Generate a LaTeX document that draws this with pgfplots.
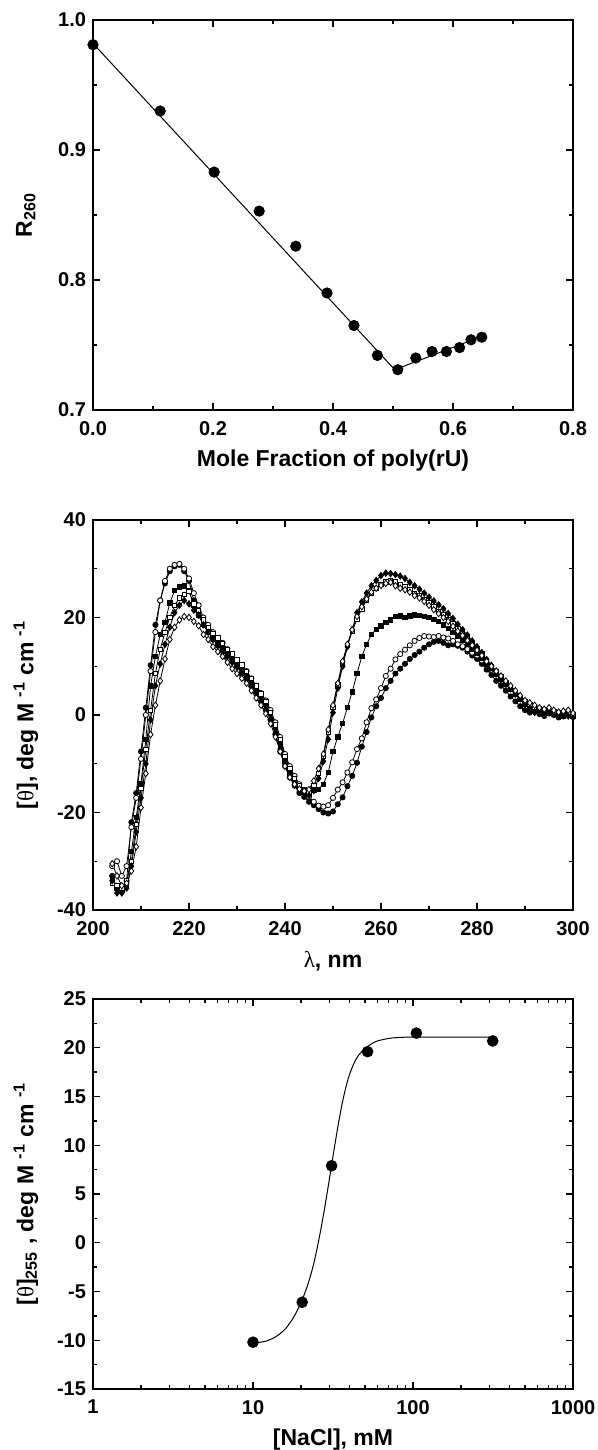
\documentclass[border=0pt]{standalone}
\usepackage{pgfplots}
\pgfplotsset{compat=1.18}
\usepackage{pgfplotstable}
\usepackage{fontspec}
\setmainfont{Liberation Sans}
\newfontfamily\symfont{Liberation Serif}

% CD spectra: l = wavelength (nm); A..F = six salt conditions
\pgfplotstableread{
l A B C D E F
204 -33 -31 -33.5 -34.5 -34 -30.5
205 -35.5 -30 -35.5 -35 -36.5 -33
206 -36 -33 -36 -35.5 -36.5 -35
207 -34 -31 -35 -34 -35.5 -34.5
208 -22 -23 -28 -30 -31 -32
209 -16 -17 -21 -22.5 -24 -27
210 -7.5 -9 -14 -15 -17 -19
211 1.5 0 -5 -7 -10 -12
212 10.2 9 6 1 -1 -4
213 18.5 17 12 8.5 6 2
214 23.5 23.5 16.5 13.5 10.5 7
215 27 27.5 19 17 14.5 11.5
216 29.5 30 23 20 18 15.5
217 30.5 30.8 25.5 22.5 21 18
218 30.8 31 26.3 24 22.5 19.5
219 29.5 30 26.5 24.8 23.5 20.2
220 27.5 28 25.5 25.3 22.8 20
221 23.5 25 22.5 22.8 21.5 19.2
222 20.5 22.5 20.5 21.5 20.5 18.3
223 18.5 20 18.8 19.5 18.5 16.5
224 17 18.5 17.5 18 17 15.5
225 15.5 17 16.3 16.8 15.5 14
226 14.2 15.8 15 15.8 14.5 13
227 13.5 14.8 14 14.7 13 12
228 12 13.5 13 13.5 12 10.8
229 11 12.2 12 12.5 10.8 9.5
230 10 11.2 10.8 11.3 9.8 8.5
231 8.5 10 9.8 10.3 8.8 7.5
232 7.5 9 8.5 9 7.6 6.5
233 6 7.5 7 7.5 6 5
234 4.5 6 5.5 6 4.5 3.5
235 2.8 4.5 4 4.3 3 2
236 1 3 2.5 2.8 1.2 0.3
237 -1 1 0.3 0.5 -1 -1.8
238 -4 -1.5 -2.5 -2 -3.8 -4.5
239 -7.5 -4.5 -6 -5 -7 -7.5
240 -10.5 -8 -9.5 -8.5 -10 -10.5
241 -12.8 -10.5 -12 -11 -12.5 -12.8
242 -14.5 -12.5 -13.5 -13 -14.3 -14.2
243 -16 -14.2 -14.5 -14.5 -15.6 -15.2
244 -16.8 -15.5 -15.3 -15.5 -16.3 -15.6
245 -17.8 -16.8 -15.5 -15.8 -16.5 -15.3
246 -18.5 -17.8 -15.5 -14.5 -15.5 -13.5
247 -19.3 -18.6 -15.2 -12 -13 -11
248 -20 -18.8 -14.2 -8.5 -9.5 -8
249 -20.2 -18.5 -11.8 -3.5 -5 -3
250 -19.8 -17 -7.5 1.5 0.5 2
251 -18.3 -15.3 -4.5 6.2 5.5 6.5
252 -16.9 -13.8 -1.7 10.8 10 11
253 -14.6 -11.8 1.5 14.3 14 14.5
254 -12.5 -9.7 4.7 17.2 17.5 17.5
255 -9.8 -7 8.5 19.6 21 20.2
256 -6.5 -4.8 12 21.8 23.2 22.2
257 -3.5 -1.5 14.5 23.5 25 23.8
258 -0.5 1.4 16.5 25 26.5 25.2
259 1.8 3.2 17.6 26 27.6 26
260 3.5 5.5 18.3 26.8 28.6 26.6
261 5.5 8 19 27.3 29.1 27
262 7 9.5 19.5 27.6 29 27.2
263 8.5 11.4 20.2 27.3 28.8 26.5
264 9.5 12.5 20.3 26.8 28.5 26
265 10.5 13.4 20 26.3 28 25.7
266 11.5 14.3 20.3 25.8 27.2 25.2
267 12.3 15.2 20.5 25 26.5 24.5
268 13 15.8 20.4 24.4 25.8 24
269 13.8 16.2 20.2 23.7 25 23.3
270 14.5 16.1 20 23 24.2 22.5
271 15 16 19.6 22.2 23.4 21.6
272 15.2 16.2 19.2 21.3 22.6 20.8
273 14.8 15.9 18.5 20.5 21.8 20
274 14.3 15.7 17.8 19.6 20.8 19.2
275 14.5 15.2 17 18.7 19.8 18.2
276 14.2 14.5 16.2 17.8 18.6 17.2
277 13.8 14.1 15.3 16.8 17.5 16.3
278 13 13.5 14.5 15.8 16.4 15.3
279 12.2 12.8 13.6 14.7 15.2 14.3
280 11.5 12.2 12.6 13.6 14 13.3
281 10.5 11.2 11.6 12.5 12.8 12.2
282 9.3 10.2 10.5 11.2 11.4 11
283 8.2 9.3 9.5 10 10.2 10
284 7 8.3 8.4 9 9 9
285 6 7.2 7.3 7.8 7.8 8
286 5 6.2 6.3 6.7 6.5 7
287 3.8 5.3 5.2 5.6 5.4 6
288 2.8 4.3 4.2 4.6 4.3 5
289 1.8 3.4 3.3 3.6 3.3 4
290 1 2.6 2.2 2.8 2.3 3
291 0.5 2 1.5 2.2 1.2 2.5
292 0.8 1.7 1.3 1.6 0.5 2
293 0.2 1.3 1.2 1.3 1 1.5
294 -0.2 1.1 0.6 1 0.3 1.2
295 0.3 0.8 0.4 0.8 0.8 1.5
296 0 0.6 0.5 0.6 0.2 1
297 -0.5 0.5 0.1 0.4 -0.3 0.6
298 -0.3 0.2 -0.3 0.2 0 0.8
299 0 0.8 0.2 0.5 -0.2 1
300 -0.4 0.3 -0.3 0.1 -0.5 0.4
}\cdspectra

\pgfplotsset{
  panel/.style={
    scale only axis, width=240pt, height=195pt,
    axis line style={line width=0.8pt},
    tick align=inside, tick pos=both,
    major tick length=3.5pt, minor tick length=1.8pt,
    every tick/.append style={black, line width=0.7pt},
    tick label style={font=\bfseries\fontsize{10}{12}\selectfont},
    xticklabel style={yshift=-2pt},
    /pgf/number format/assume math mode=true,
    label style={font=\bfseries\fontsize{11.5}{13}\selectfont},
    xlabel style={at={(axis description cs:0.5,-0.13)}, anchor=center},
    ylabel style={at={(axis description cs:-0.14,0.5)}, anchor=center},
  },
  cd/.style={black, line width=0.4pt, mark size=1.3pt},
}

\begin{document}
\begin{tikzpicture}
\path[use as bounding box] (0,0) rectangle (299pt,-725pt);

% (top) R260 against mole fraction
\begin{axis}[panel, at={(46.5pt,-10pt)}, anchor=north west,
    xmin=0, xmax=0.8, ymin=0.7, ymax=1.0,
    xtick={0,0.2,0.4,0.6,0.8}, minor xtick={0.1,0.3,0.5,0.7},
    ytick={0.7,0.8,0.9,1.0}, minor ytick={0.75,0.85,0.95},
    xticklabel style={/pgf/number format/.cd, fixed, fixed zerofill, precision=1},
    yticklabel style={/pgf/number format/.cd, fixed, fixed zerofill, precision=1},
    xlabel={Mole Fraction of poly(rU)},
    ylabel={R\textsubscript{260}}]
  \addplot[black, line width=0.5pt, mark=none]
    coordinates {(0,0.982) (0.503,0.731) (0.650,0.757)};
  \addplot[only marks, mark=*, mark size=2.6pt, black]
    coordinates {(0.0,0.981) (0.112,0.930) (0.202,0.883) (0.277,0.853)
                 (0.338,0.826) (0.390,0.790) (0.435,0.765) (0.474,0.742)
                 (0.508,0.731) (0.538,0.740) (0.565,0.745) (0.589,0.745)
                 (0.611,0.748) (0.630,0.754) (0.648,0.756)};
\end{axis}

% (middle) CD spectra
\begin{axis}[panel, at={(46.5pt,-260pt)}, anchor=north west,
    xmin=200, xmax=300, ymin=-40, ymax=40,
    xtick={200,220,240,260,280,300}, minor xtick={210,230,250,270,290},
    ytick={-40,-20,0,20,40}, minor ytick={-30,-10,10,30},
    xlabel={{\symfont\mdseries λ}, nm},
    ylabel={[{\symfont\mdseries θ}], deg M \textsuperscript{-1} cm \textsuperscript{-1}}]
  \addplot[cd, mark=*, mark options={fill=black}] table[x=l, y=A] {\cdspectra};
  \addplot[cd, mark=*, mark options={fill=white}] table[x=l, y=B] {\cdspectra};
  \addplot[cd, mark=square*, mark size=1.1pt, mark options={fill=black}] table[x=l, y=C] {\cdspectra};
  \addplot[cd, mark=square*, mark size=1.1pt, mark options={fill=white}] table[x=l, y=D] {\cdspectra};
  \addplot[cd, mark=diamond*, mark size=1.6pt, mark options={fill=black}] table[x=l, y=E] {\cdspectra};
  \addplot[cd, mark=diamond*, mark size=1.6pt, mark options={fill=white}] table[x=l, y=F] {\cdspectra};
\end{axis}

% (bottom) ellipticity at 255 nm against salt
\begin{axis}[panel, at={(46.5pt,-499.5pt)}, anchor=north west,
    xmode=log, xmin=1, xmax=1000, ymin=-15, ymax=25,
    xtick={1,10,100,1000}, xticklabels={1,10,100,1000},
    minor xtick={2,3,4,5,6,7,8,9,20,30,40,50,60,70,80,90,200,300,400,500,600,700,800,900},
    ytick={-15,-10,...,25}, minor y tick num=1,
    xlabel={[NaCl], mM},
    ylabel={[{\symfont\mdseries θ}]\textsubscript{255} , deg M \textsuperscript{-1} cm \textsuperscript{-1}}]
  \addplot[black, line width=0.5pt, smooth, mark=none]
    coordinates {(10,-10.3) (12,-10.1) (14,-9.6) (16,-8.8) (18,-7.6) (20,-6.1)
                 (22,-4.3) (24,-2.1) (26,0.6) (28,3.5) (30,6.5) (32,9.4)
                 (34,12.0) (36,14.2) (38,15.9) (40,17.2) (43,18.5) (46,19.3)
                 (50,19.9) (55,20.4) (60,20.7) (70,20.95) (80,21.05) (100,21.1)
                 (150,21.1) (316,21.1)};
  \addplot[only marks, mark=*, mark size=2.7pt, black]
    coordinates {(10,-10.2) (20.3,-6.1) (31,7.9) (52,19.6) (105,21.5) (315,20.7)};
\end{axis}
\end{tikzpicture}
\end{document}
